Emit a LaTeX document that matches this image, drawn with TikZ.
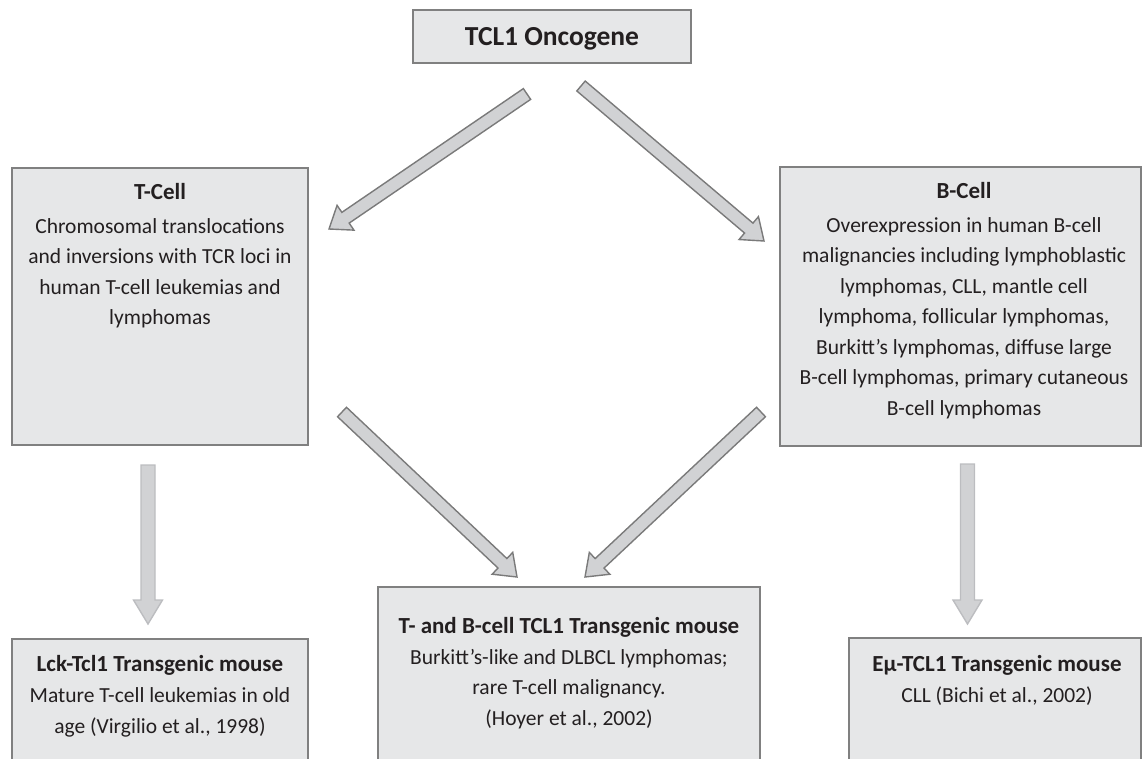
\documentclass[tikz,border=0pt]{standalone}
\usepackage{fontspec}
\setmainfont{Carlito}
\usetikzlibrary{calc}
\definecolor{boxfill}{HTML}{E6E7E8}
\definecolor{boxline}{HTML}{808080}
\definecolor{txt}{HTML}{231F20}
\definecolor{arrfill}{HTML}{D1D2D4}
\definecolor{arrline}{HTML}{7A7A7A}
\definecolor{arrlight}{HTML}{BCBDC0}
% block arrow: from, to, half shaft, half head, head length, style
\newcommand\blockarr[6]{%
  \coordinate (tmpC) at ($(#2)!#5!(#1)$);
  \draw[#6] ($(#1)!#3!90:(#2)$) -- ($(tmpC)!#3!90:(#2)$) -- ($(tmpC)!#4!90:(#2)$)
    -- (#2) -- ($(tmpC)!#4!-90:(#2)$) -- ($(tmpC)!#3!-90:(#2)$) -- ($(#1)!#3!-90:(#2)$) -- cycle;}
\tikzset{
  box/.style={draw=boxline, fill=boxfill, line width=1.8pt, inner sep=0pt},
  boxtext/.style={anchor=north, inner sep=0pt, align=center, text=txt,
    font=\fontsize{21.5}{30.5}\selectfont},
  diagarrow/.style={draw=arrline, fill=arrfill, line width=1.4pt, line join=miter},
  vertarrow/.style={draw=arrlight, fill=arrfill, line width=1.4pt, line join=miter},
}
\newcommand\hd[1]{{\fontsize{23}{30.5}\selectfont\bfseries #1}}
\begin{document}
\begin{tikzpicture}[x=1pt,y=-1pt]
\useasboundingbox (0,0) rectangle (1142,758);
\clip (0,0) rectangle (1142,758);
% boxes
\node[box, minimum width=278pt, minimum height=53pt] (top) at (552,36.5) {};
\node[box, minimum width=296pt, minimum height=277pt] (tcell) at (160,306.5) {};
\node[box, minimum width=361pt, minimum height=279pt] (bcell) at (960.5,306.5) {};
\node[box, minimum width=296pt, minimum height=200pt] (lck) at (160,739) {};
\node[box, minimum width=382pt, minimum height=250pt] (tb) at (569,712) {};
\node[box, minimum width=292pt, minimum height=200pt] (emu) at (995,738) {};
% texts
\node[text=txt, font=\fontsize{27.5}{30}\selectfont\bfseries, anchor=base] (toptext) at (552,45) {TCL1 Oncogene};
\node[boxtext] (tcelltext) at (160,183.5) {\hd{T-Cell}\\[3pt]
  Chromosomal translocations\\ and inversions with TCR loci in\\ human T-cell leukemias and\\ lymphomas};
\node[boxtext] (bcelltext) at (964,182.5) {\hd{B-Cell}\\[3pt]
  Overexpression in human B-cell\\ malignancies including lymphoblastic\\ lymphomas, CLL, mantle cell\\
  lymphoma, follicular lymphomas,\\ Burkitt’s lymphomas, diffuse large\\ B-cell lymphomas, primary cutaneous\\ B-cell lymphomas};
\node[boxtext] (lcktext) at (160,655) {\hd{Lck-Tcl1 Transgenic mouse}\\[1pt]
  Mature T-cell leukemias in old\\ age (Virgilio et al., 1998)};
\node[boxtext] (tbtext) at (569,617.5) {\hd{T- and B-cell TCL1 Transgenic mouse}\\
  Burkitt’s-like and DLBCL lymphomas;\\ rare T-cell malignancy.\\ (Hoyer et al., 2002)};
\node[boxtext] (emutext) at (997,655) {\hd{Eμ-TCL1 Transgenic mouse}\\[1pt]
  CLL (Bichi et al., 2002)};
% arrow end points
\coordinate (a1s) at (527,94);   \coordinate (a1e) at (329,229);
\coordinate (a2s) at (581,86);   \coordinate (a2e) at (764,241);
\coordinate (a3s) at (342,412);  \coordinate (a3e) at (517,577);
\coordinate (a4s) at (761,412);  \coordinate (a4e) at (585,577);
\coordinate (a5s) at (148,465);  \coordinate (a5e) at (148,624);
\coordinate (a6s) at (967.5,464);\coordinate (a6e) at (967.5,624);
\blockarr{a1s}{a1e}{6.5pt}{15pt}{20pt}{diagarrow}
\blockarr{a2s}{a2e}{6.5pt}{15pt}{20pt}{diagarrow}
\blockarr{a3s}{a3e}{6.5pt}{15pt}{20pt}{diagarrow}
\blockarr{a4s}{a4e}{6.5pt}{15pt}{20pt}{diagarrow}
\blockarr{a5s}{a5e}{7pt}{14.5pt}{24pt}{vertarrow}
\blockarr{a6s}{a6e}{7pt}{14.5pt}{24pt}{vertarrow}
\end{tikzpicture}
\end{document}
